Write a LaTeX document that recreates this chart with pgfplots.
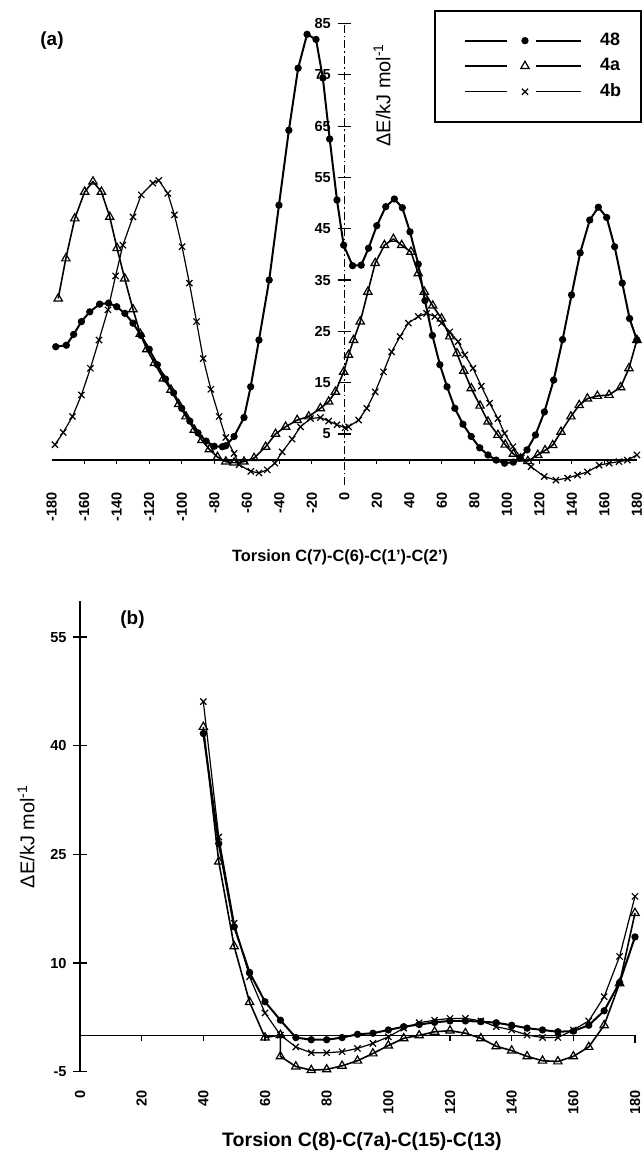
\documentclass[border=0pt]{standalone}
\usepackage{fontspec}
\setmainfont{Liberation Sans}
\usepackage{pgfplots}
\pgfplotsset{compat=1.18}

\pgfplotsset{
  s48/.style={black, line width=1bp, mark=*, mark size=1.3bp, mark options={solid}},
  s4a/.style={black, line width=0.8bp, mark=triangle, mark size=2.4bp, mark options={solid, line width=0.6bp, fill=white}},
  s4b/.style={black, line width=0.6bp, mark=x, mark size=2.2bp, mark options={solid, line width=0.6bp}},
  tickfont/.style={font=\bfseries\fontsize{7.3}{9}\selectfont},
}

\begin{document}
\begin{tikzpicture}
\useasboundingbox (0,0) rectangle (322bp,577bp);

% ---------------- panel (a)
\begin{axis}[
  at={(25.85bp,334.375bp)}, anchor=south west,
  width=292.6bp, height=230.85bp, scale only axis,
  xmin=-180, xmax=180, ymin=-5, ymax=85,
  clip=false,
  axis x line=bottom, axis y line=middle,
  x axis line style={draw=none},
  y axis line style={-, dash pattern=on 4bp off 1.5bp on 0.8bp off 1.5bp, line width=0.7bp},
  xtick={-180,-160,...,180},
  xticklabels={-180,-160,-140,-120,-100,-80,-60,-40,-20,0,20,40,60,80,100,120,140,160,180},
  xtick style={draw=none}, xtick align=inside,
  xticklabel style={rotate=90, anchor=east, tickfont},
  ytick={-5,5,...,85},
  yticklabels={-5,5,15,25,35,45,55,65,75,85},
  ytick align=center, major tick length=6.5bp,
  ytick style={black, line width=0.6bp, solid},
  yticklabel style={tickfont},
  legend style={at={(1.0087,1.0293)}, anchor=north east, draw=black, line width=0.9bp,
    inner xsep=8bp, inner ysep=9.5bp, row sep=2bp,
    nodes={inner ysep=1.5bp},
    font=\bfseries\fontsize{9}{10}\selectfont,
    /tikz/every odd column/.append style={column sep=7bp}},
  legend cell align=left,
  legend image code/.code={
    \path[draw=none] (0bp,0bp) -- (6bp,0bp);
    \draw[#1, mark=none] (7bp,0bp) -- (28bp,0bp);
    \draw[#1, mark=none] (42.5bp,0bp) -- (65bp,0bp);
    \draw[#1, only marks] plot coordinates {(36.9bp,0bp)};
  },
]
\draw[line width=1bp] (axis cs:-180,0) -- (axis cs:180,0);
\pgfplotsinvokeforeach{-160,-140,-120,-100,-80,-60,-40,-20,20,40,60,80,100,120,140,160}{
  \draw[line width=0.6bp] (axis cs:#1,0) -- ++(0bp,-2bp);
}

\addplot[s48] coordinates {
(-177.5,22.0) (-171,22.3) (-166.5,24.4) (-161.7,26.9) (-156.6,28.8) (-150.5,30.3)
(-145,30.5) (-140,29.8) (-135,28.5) (-130,26.6) (-125,24.2) (-120,21.5) (-115,18.5)
(-110,15.7) (-105,13.0) (-100,10.0) (-95,7.5) (-90,5.2) (-85,3.6) (-80,2.6) (-75,2.5)
(-72.9,2.7) (-67.8,4.5) (-61.7,8.2) (-57.6,14.2) (-52.5,23.3) (-46.2,35.0) (-40.2,49.6)
(-34.1,64.2) (-28.4,76.3) (-22.9,82.9) (-17.4,81.9) (-13.2,74.4) (-9,62.5) (-4.5,50.6)
(-0.4,41.8) (5.1,37.8) (10.4,37.9) (14.9,41.2) (20,45.6) (25.5,49.3) (30.8,50.8)
(35.7,49.1) (40.4,44.4) (45.5,38.1) (49.6,31.0) (54.2,24.2) (58.8,18.5) (63.2,14.2)
(68,10.0) (73,6.9) (78.1,4.5) (83.3,2.3) (88.4,0.9) (93.4,-0.1) (98.6,-0.7) (104,-0.5)
(108,0.3) (112.4,1.9) (117.6,4.8) (123.1,9.3) (128.8,15.5) (134.3,23.4) (139.8,32.1)
(145.1,40.3) (151,46.7) (156.3,49.2) (161.4,47.2) (166.3,41.5) (171,34.4) (175.5,27.5)
(180,23.3)
};
\addlegendentry{48}

\addplot[s4a] coordinates {
(-176,31.4) (-171.3,39.2) (-165.8,47.0) (-159.7,52.2) (-154.6,54.2) (-149.4,52.2)
(-144.3,47.3) (-139.8,41.2) (-135.1,35.3) (-130,29.3) (-125.5,24.5) (-121.5,21.5)
(-116.8,18.8) (-111.3,15.8) (-106.6,13.6) (-101.9,10.8) (-97.4,8.4) (-92.3,5.8)
(-87.6,3.8) (-83,2.0) (-78,0.5) (-72.9,-0.4) (-67.8,-0.6) (-61.7,-0.4) (-55.5,0.3)
(-48.4,2.5) (-42.3,5.0) (-36.1,6.4) (-29,7.7) (-21.9,8.4) (-14.7,10.0) (-9.6,11.3)
(-5.5,13.2) (-0.4,17.1) (2.6,20.4) (5.7,23.3) (9.8,26.9) (14.5,32.7) (19,38.3)
(24.7,41.8) (30.2,43.0) (35.3,41.8) (41,40.5) (45.5,36.3) (49.2,32.7) (54.4,30.0)
(59.8,27.5) (64.9,24.0) (69.3,20.7) (73.5,17.3) (78.1,13.9) (83.5,10.5) (88.4,7.4)
(94.5,4.8) (99,2.9) (104,1.1) (108.5,0.2) (112.9,-0.3) (119,0.9) (123.5,1.8)
(128.2,2.8) (133.3,5.4) (139.4,8.4) (144.5,10.6) (149.6,11.9) (155.7,12.4)
(162.9,12.6) (170,14.1) (175.1,17.8) (180,23.3)
};
\addlegendentry{4a}

\addplot[s4b] coordinates {
(-178,2.9) (-172.9,5.3) (-167.2,8.4) (-161.7,12.6) (-156.2,17.8) (-150.9,23.3)
(-145.4,29.2) (-140.7,35.8) (-136.2,41.8) (-130,47.3) (-124.9,51.6) (-117.8,53.9)
(-114.1,54.4) (-108.6,51.9) (-104.5,47.7) (-99.8,41.5) (-95.3,34.4) (-90.9,26.9)
(-86.8,19.7) (-82.1,13.7) (-77,8.4) (-72.9,4.3) (-67.8,1.2) (-64.7,-1.0) (-57.5,-2.3)
(-52.5,-2.6) (-47.4,-2.0) (-42.7,-0.7) (-38.2,1.5) (-32.1,4.0) (-26.9,6.4) (-20.8,8.0)
(-14.7,8.2) (-9.6,7.5) (-4.5,6.8) (0.5,6.2) (2.6,6.4) (8.8,7.7) (13.8,10.0) (19,13.2)
(24.1,17.1) (29.1,21.0) (34.3,24.0) (39.4,26.6) (45.5,27.9) (50.6,28.5) (55.7,27.9)
(59.8,26.6) (64.9,24.9) (70,23.0) (74.1,20.4) (79.2,17.8) (84.3,14.3) (89.4,11.0)
(94.5,8.0) (98.6,5.1) (103.7,2.5) (108.8,0.3) (114.9,-1.4) (123,-3.3) (130.2,-4.0)
(137.4,-3.6) (143.5,-3.0) (149.6,-2.4) (156.8,-1.1) (162.9,-0.7) (169,-0.4)
(174.1,-0.1) (180,0.9)
};
\addlegendentry{4b}
\end{axis}

% ---------------- panel (b)
\begin{axis}[
  at={(40bp,41.2bp)}, anchor=south west,
  width=277.5bp, height=235.3bp, scale only axis,
  xmin=0, xmax=180, ymin=-5, ymax=60,
  clip=false,
  axis x line=bottom, axis y line=left,
  x axis line style={draw=none},
  y axis line style={-, line width=0.8bp},
  xtick={0,20,...,180},
  xticklabels={0,20,40,60,80,100,120,140,160,180},
  xtick style={draw=none}, xtick align=inside,
  xticklabel shift=6bp,
  xticklabel style={rotate=90, anchor=east, tickfont},
  ytick={-5,10,25,40,55},
  yticklabels={-5,10,25,40,55},
  ytick align=center, major tick length=6.5bp,
  ytick style={black, line width=0.7bp},
  yticklabel style={tickfont},
]
\draw[line width=0.7bp] (axis cs:0,0) -- (axis cs:180,0);
\pgfplotsinvokeforeach{20,40,60,80,100,120,140,160}{
  \draw[line width=0.6bp] (axis cs:#1,0) -- ++(0bp,-3bp);
}
\draw[line width=0.6bp] (axis cs:180,0) -- ++(0bp,-4bp);

\addplot[s48] coordinates {
(40,41.7) (45,26.5) (50,15.0) (55,8.7) (60,4.65) (65,2.1) (70,-0.3) (75,-0.6) (80,-0.6)
(85,-0.3) (90,0.15) (95,0.3) (100,0.75) (105,1.2) (110,1.5) (115,1.8) (120,2.0) (125,2.0)
(130,1.9) (135,1.75) (140,1.4) (145,1.0) (150,0.75) (155,0.5) (160,0.6) (165,1.4)
(170,3.4) (175,7.3) (180,13.6)
};
\addplot[s4a] coordinates {
(40,42.6) (45,24.0) (50,12.3) (55,4.6) (60,-0.3) (65,0.05) (65,-2.9) (70,-4.3) (75,-4.8)
(80,-4.7) (85,-4.2) (90,-3.5) (95,-2.5) (100,-1.4) (105,-0.4) (110,0.0) (115,0.5)
(120,0.65) (125,0.3) (130,-0.4) (135,-1.5) (140,-2.1) (145,-2.9) (150,-3.5) (155,-3.6)
(160,-2.9) (165,-1.6) (170,1.4) (175,7.2) (180,16.9)
};
\addplot[s4b] coordinates {
(40,46.1) (45,27.4) (50,15.5) (55,8.1) (60,3.1) (65,0.05) (70,-1.6) (75,-2.4) (80,-2.4)
(85,-2.25) (90,-1.8) (95,-1.1) (100,-0.2) (105,1.0) (110,1.75) (115,2.1) (120,2.35)
(125,2.35) (130,2.0) (135,1.2) (140,0.75) (145,0.05) (150,-0.3) (155,-0.3) (160,0.75)
(165,2.0) (170,5.35) (175,10.9) (180,19.2)
};
\end{axis}

\node[font=\bfseries\fontsize{9.5}{11}\selectfont] at (26bp,556.5bp) {(a)};
\node[font=\bfseries\fontsize{9.5}{11}\selectfont] at (66.25bp,267bp) {(b)};
\node[rotate=90, font=\fontsize{10}{12}\selectfont] at (191bp,529.5bp) {ΔE/kJ mol\textsuperscript{-1}};
\node[rotate=90, font=\fontsize{10}{12}\selectfont] at (13bp,158.75bp) {ΔE/kJ mol\textsuperscript{-1}};
\node[font=\bfseries\fontsize{8.2}{10}\selectfont] at (170bp,298.5bp) {Torsion C(7)-C(6)-C(1')-C(2')};
\node[font=\bfseries\fontsize{9.8}{12}\selectfont] at (181bp,6.25bp) {Torsion C(8)-C(7a)-C(15)-C(13)};
\end{tikzpicture}
\end{document}
